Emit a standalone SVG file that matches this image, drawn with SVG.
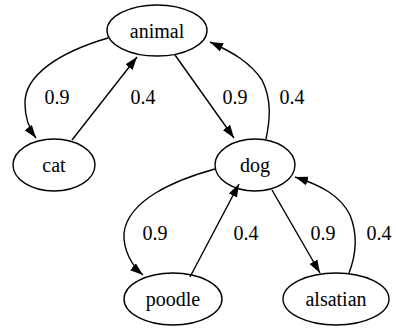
<svg xmlns="http://www.w3.org/2000/svg" width="396" height="331" viewBox="0 0 396 331">
<style>
.n ellipse{fill:none;stroke:#000;stroke-width:1.4}
.t{font-family:'Liberation Serif','Times New Roman',serif;font-size:20px;fill:#000;text-anchor:middle}
.e path{fill:none;stroke:#000;stroke-width:1.4}
</style>
<defs>
<marker id="ah" markerUnits="userSpaceOnUse" markerWidth="14" markerHeight="10" refX="13" refY="5" orient="auto">
<path d="M0,0.5 L13,5 L0,9.5 z" fill="#000"/>
</marker>
</defs>
<rect width="396" height="331" fill="#fff"/>
<g id="connectors" class="e">
<path d="M108,38 C60,52 24,75 25,104 C25,118 30,130 36,138" marker-end="url(#ah)"/>
<path d="M72,140 L137,57" marker-end="url(#ah)"/>
<path d="M175,55 L234,138" marker-end="url(#ah)"/>
<path d="M266,139 C270,120 272,100 262,80 C250,62 232,52 210,42" marker-end="url(#ah)"/>
<path d="M215,169 C175,180 128,200 124,233 C123,250 132,266 143,275" marker-end="url(#ah)"/>
<path d="M190,277 L239,184" marker-end="url(#ah)"/>
<path d="M272,190 L320,273" marker-end="url(#ah)"/>
<path d="M349,273 C356,255 358,235 350,215 C340,195 320,185 295,177" marker-end="url(#ah)"/>
</g>
<g id="labels" class="t">
<text x="57" y="104">0.9</text>
<text x="143" y="104">0.4</text>
<text x="235" y="104">0.9</text>
<text x="292" y="104">0.4</text>
<text x="155" y="240">0.9</text>
<text x="246" y="240">0.4</text>
<text x="323" y="240">0.9</text>
<text x="379" y="240">0.4</text>
</g>
<g id="animal" class="n"><ellipse cx="157" cy="30.5" rx="50" ry="25.5"/><text class="t" x="157" y="37.5">animal</text></g>
<g id="cat" class="n"><ellipse cx="54" cy="165" rx="41" ry="26"/><text class="t" x="54" y="172">cat</text></g>
<g id="dog" class="n"><ellipse cx="255" cy="165" rx="40" ry="26"/><text class="t" x="255" y="172">dog</text></g>
<g id="poodle" class="n"><ellipse cx="173" cy="299" rx="49" ry="26"/><text class="t" x="173" y="306">poodle</text></g>
<g id="alsatian" class="n"><ellipse cx="336" cy="299" rx="53" ry="26"/><text class="t" x="336" y="306">alsatian</text></g>
</svg>
